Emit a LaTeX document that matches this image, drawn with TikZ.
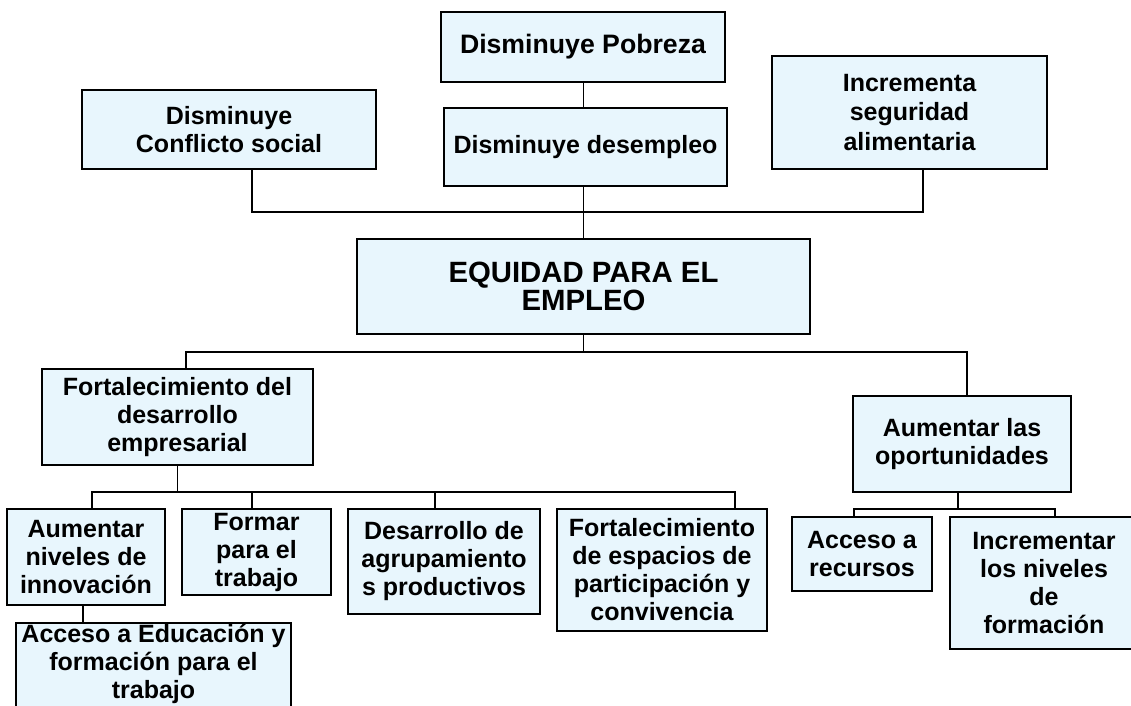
\documentclass[tikz,border=0pt]{standalone}
\usepackage{fontspec}
\setmainfont{Liberation Sans}
\usetikzlibrary{arrows.meta, positioning, calc}

\definecolor{boxblue}{HTML}{E8F6FD}

\tikzset{
  box/.style={draw=black, line width=1.5pt, fill=boxblue, inner sep=1pt, align=center,
    font={\fontsize{18.75}{21}\selectfont\bfseries}},
  link/.style={black, line width=1.2pt}
}

\begin{document}
\begin{tikzpicture}[>=latex, x=0.75pt, y=-0.75pt]

\useasboundingbox[fill=white] (0,0) rectangle (1131,706);

\coordinate (topbus) at (0,212);
\coordinate (midbus) at (0,352);
\coordinate (lowbus) at (0,492);
\coordinate (rightbus) at (0,509);

\node[box, minimum width=213pt, minimum height=52.5pt, font={\fontsize{20}{21}\selectfont\bfseries}] (pobreza) at (583,47) {Disminuye Pobreza};
\node[box, minimum width=212.25pt, minimum height=58.5pt] (desempleo) at (585.5,147) {Disminuye desempleo};
\node[box, minimum width=220.5pt, minimum height=59.25pt] (conflicto) at (229,129.5) {Disminuye\\Conflicto social};
\node[box, minimum width=206.25pt, minimum height=84.75pt, font={\fontsize{18.75}{22}\selectfont\bfseries}] (seguridad) at (909.5,112.5) {Incrementa\\seguridad\\alimentaria};

\node[box, minimum width=339.75pt, minimum height=71.25pt, font={\fontsize{22}{21.5}\selectfont\bfseries}] (equidad) at (583.5,286.5) {EQUIDAD PARA EL\\EMPLEO};

\node[box, minimum width=203.25pt, minimum height=72pt] (empresarial) at (177.5,417) {Fortalecimiento del\\desarrollo\\empresarial};
\node[box, minimum width=163.5pt, minimum height=72pt] (oportunidades) at (962,444) {Aumentar las\\oportunidades};

\node[box, minimum width=118.5pt, minimum height=72pt] (innovacion) at (86,557) {Aumentar\\niveles de\\innovación};
\node[box, minimum width=111.75pt, minimum height=64.5pt] (formar) at (256.5,552) {Formar\\para el\\trabajo};
\node[box, minimum width=144pt, minimum height=78.75pt] (agrupamiento) at (444,561.5) {Desarrollo de\\agrupamiento\\s productivos};
\node[box, minimum width=157.5pt, minimum height=91.5pt] (espacios) at (662,570) {Fortalecimiento\\de espacios de\\participación y\\convivencia};
\node[box, minimum width=206.25pt, anchor=north, text depth=62pt] (educacion) at (153.5,622) {Acceso a Educación y\\formación para el\\trabajo};

\node[box, minimum width=105pt, minimum height=55.5pt] (recursos) at (862,554) {Acceso a\\recursos};
\node[box, minimum width=141pt, minimum height=99pt] (formacion) at (1044,583) {Incrementar\\los niveles\\de\\formación};

\draw[link] (pobreza.south -| equidad.north) -- (desempleo.north -| equidad.north);
\draw[link] (desempleo.south -| equidad.north) -- (equidad.north);
\draw[link] ($(conflicto.south)+(23,0)$) coordinate (c1) -- (c1 |- topbus) -| ($(seguridad.south)+(13.5,0)$);

\draw[link] (equidad.south) -- (equidad.south |- midbus);
\draw[link] ($(empresarial.north)+(8.5,0)$) coordinate (e1) -- (e1 |- midbus) -| ($(oportunidades.north)+(5,0)$);

\draw[link] (empresarial.south) -- (empresarial.south |- lowbus);
\draw[link] ($(innovacion.north)+(6,0)$) coordinate (i1) -- (i1 |- lowbus) -| ($(espacios.north)+(73,0)$);
\draw[link] ($(formar.north)+(-4.5,0)$) coordinate (f1) -- (f1 |- lowbus);
\draw[link] ($(agrupamiento.north)+(-9,0)$) coordinate (a1) -- (a1 |- lowbus);
\draw[link] ($(innovacion.south)+(-3,0)$) coordinate (i2) -- (i2 |- educacion.north);

\draw[link] ($(oportunidades.south)+(-4,0)$) coordinate (o1) -- (o1 |- rightbus);
\draw[link] ($(recursos.north)+(-8,0)$) coordinate (r1) -- (r1 |- rightbus) -| ($(formacion.north)+(11,0)$);

\end{tikzpicture}
\end{document}
